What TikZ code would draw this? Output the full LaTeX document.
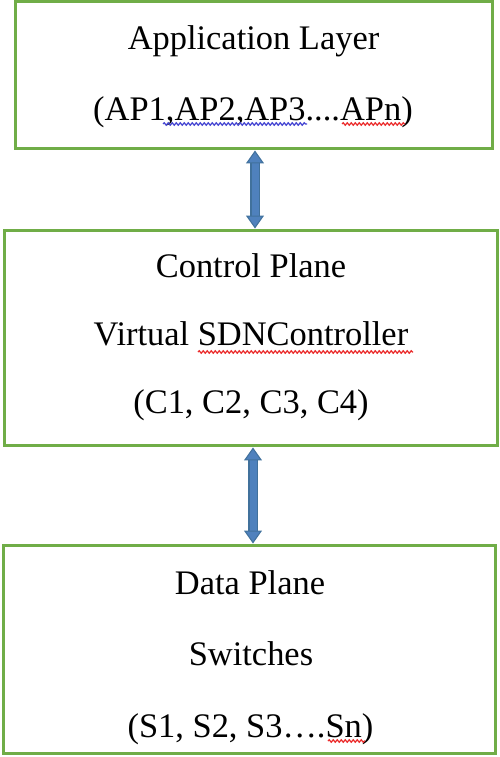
\documentclass[tikz,border=0pt]{standalone}
\usepackage{fontspec}
\setmainfont{Liberation Serif}
\usetikzlibrary{positioning,arrows.meta,decorations.pathmorphing}

\definecolor{boxgreen}{RGB}{112,173,71}
\definecolor{arrowblue}{RGB}{79,129,189}
\definecolor{arrowedge}{RGB}{65,113,156}
\definecolor{squigred}{RGB}{235,45,45}
\definecolor{squigblue}{RGB}{70,70,210}

\begin{document}
\begin{tikzpicture}[x=0.02cm,y=-0.02cm,
    layerbox/.style={draw=boxgreen,line width=0.06cm,fill=white,inner sep=0pt},
    label/.style={anchor=base,inner sep=0pt,font=\fontsize{19.6}{24}\selectfont},
    link/.style={draw=arrowedge,line width=0.6pt,double=arrowblue,double distance=0.14cm,
      {Triangle[width=0.36cm,length=0.26cm,fill=arrowblue]}-{Triangle[width=0.36cm,length=0.26cm,fill=arrowblue]}},
    squig/.style={decorate,decoration={snake,segment length=0.08cm,amplitude=0.025cm},line width=0.7pt}]
    \useasboundingbox (0,0) rectangle (500,757);

    % Schichten
    \node[layerbox,minimum width=9.56cm,minimum height=2.96cm] (app) at (254,75) {};
    \node[layerbox,minimum width=9.88cm,minimum height=4.32cm] (ctrl) at (251,338) {};
    \node[layerbox,minimum width=9.86cm,minimum height=4.18cm] (data) at (249.5,649.5) {};

    % Texte
    \node[label] (appA) at (253.5,50) {Application Layer};
    \node[label] (appB) at (253,120) {(AP1,AP2,AP3....APn)};

    \node[label] (ctrlA) at (251,277) {Control Plane};
    \node[label] (ctrlB) at (251,345) {Virtual SDNController};
    \node[label] (ctrlC) at (251,413) {(C1, C2, C3, C4)};

    \node[label] (dataA) at (250,594) {Data Plane};
    \node[label] (dataB) at (251,665) {Switches};
    \node[label] (dataC) at (250.5,737) {(S1, S2, S3\dots.Sn)};

    % Wellenlinien
    \draw[squig,squigblue] (163,124) -- (307,124);
    \draw[squig,squigred] (342,124) -- (405,124);
    \draw[squig,squigred] (198,352) -- (413,352);
    \draw[squig,squigred] (328,741) -- (365,741);

    % Pfeile
    \coordinate (a1) at (255,0);
    \coordinate (a2) at (253,0);
    \draw[link] (a1 |- app.south) -- (a1 |- ctrl.north);
    \draw[link] (a2 |- ctrl.south) -- (a2 |- data.north);
\end{tikzpicture}
\end{document}
